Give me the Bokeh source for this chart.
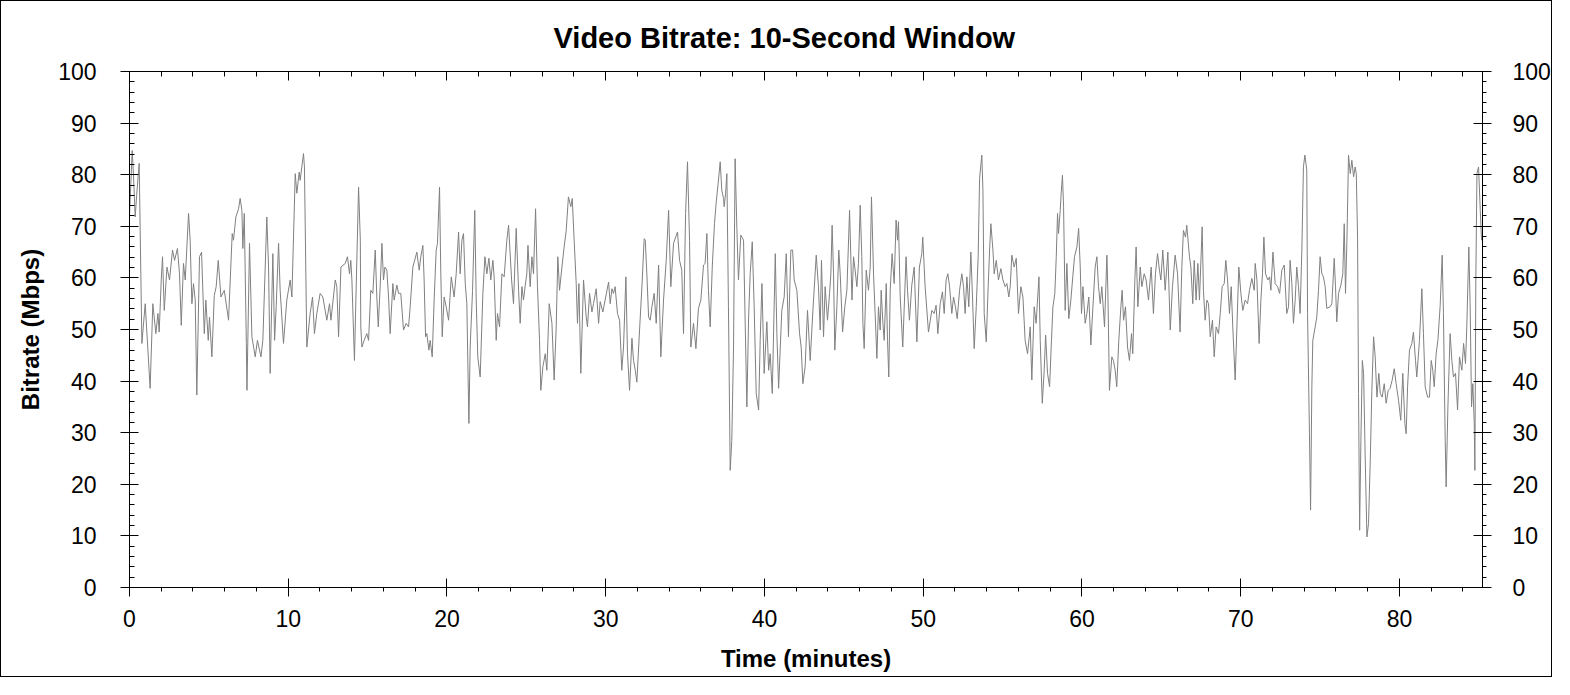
from bokeh.embed import file_html
from bokeh.models import (ColumnDataSource, CustomJSTickFormatter, LinearAxis,
                          Range1d, SingleIntervalTicker)
from bokeh.plotting import figure
from bokeh.resources import INLINE

# bitrate, one segment per ~14 minutes
minutes_a = [0.00, 0.17, 0.25, 0.36, 0.45, 0.61, 0.78, 0.99, 1.16, 1.30, 1.47, 1.66, 1.79, 1.87, 2.00, 2.08, 2.19, 2.36,
             2.52, 2.71, 2.84, 3.02, 3.15, 3.26, 3.40, 3.51, 3.72, 3.82, 3.93, 4.03, 4.14, 4.24, 4.41, 4.54, 4.71, 4.81,
             4.96, 5.04, 5.19, 5.34, 5.46, 5.59, 5.76, 5.97, 6.24, 6.47, 6.55, 6.70, 6.87, 6.97, 7.08, 7.14, 7.23, 7.36,
             7.40, 7.56, 7.71, 7.92, 8.06, 8.28, 8.40, 8.65, 8.76, 8.86, 9.03, 9.14, 9.24, 9.39, 9.49, 9.70, 9.91, 10.12,
             10.23, 10.44, 10.54, 10.69, 10.75, 10.96, 11.02, 11.17, 11.38, 11.53, 11.65, 11.80, 12.01, 12.18, 12.43,
             12.60, 12.69, 12.96, 13.06, 13.17, 13.32, 13.59, 13.73, 13.86, 13.94, 14.01, 14.17, 14.43, 14.54]
mbps_a = [72.0, 84.7, 80.0, 71.8, 76.0, 82.2, 47.3, 55.0, 46.0, 38.6, 55.0, 49.2, 53.1, 49.5, 59.6, 64.1, 53.7, 62.1,
          59.6, 65.4, 63.4, 65.7, 60.8, 50.8, 62.8, 59.6, 72.5, 67.3, 55.0, 58.9, 55.7, 37.3, 64.1, 65.0, 49.2, 55.7,
          47.9, 52.4, 44.7, 56.6, 58.3, 63.4, 56.3, 57.6, 51.8, 68.6, 67.3, 71.8, 73.4, 75.4, 73.1, 65.7, 72.5, 47.3,
          38.2, 66.7, 48.6, 44.7, 47.9, 44.7, 47.9, 71.8, 62.1, 41.5, 64.7, 47.9, 54.4, 66.7, 57.6, 47.3, 55.7, 59.6,
          56.3, 80.2, 76.4, 80.5, 78.9, 84.1, 81.5, 46.6, 53.1, 56.3, 49.2, 53.1, 57.0, 56.3, 51.8,
          55.0, 51.8, 59.6, 58.3, 48.6, 62.1, 62.8, 64.1, 60.8, 63.4, 59.6, 44.0, 77.6, 67.3]

minutes_b = [14.57, 14.64, 14.78, 14.95, 15.06, 15.20, 15.33, 15.48, 15.58, 15.67, 15.79, 15.90, 16.00, 16.09, 16.21,
             16.32, 16.42, 16.59, 16.67, 16.84, 16.95, 17.09, 17.26, 17.43, 17.58, 17.68, 17.85, 18.10, 18.25, 18.35,
             18.48, 18.56, 18.65, 18.73, 18.86, 18.94, 19.07, 19.19, 19.32, 19.40, 19.53, 19.61, 19.70, 19.82, 19.95,
             20.10, 20.27, 20.45, 20.58, 20.73, 20.83, 20.94, 21.04, 21.15, 21.25, 21.38, 21.46, 21.61, 21.75, 21.84,
             21.94, 22.09, 22.26, 22.39, 22.51, 22.64, 22.76, 22.89, 22.97, 23.10, 23.18, 23.31, 23.46, 23.60, 23.77,
             23.88, 24.07, 24.19, 24.36, 24.51, 24.61, 24.72, 24.82, 24.93, 25.03, 25.10, 25.24, 25.35, 25.45, 25.58,
             25.70, 25.83, 25.91, 26.04, 26.19, 26.29, 26.44, 26.61, 26.75, 26.88, 26.98, 27.09, 27.24, 27.38, 27.51,
             27.65, 27.80, 27.89, 28.01, 28.14, 28.22, 28.31, 28.43, 28.60, 28.77, 28.85, 28.98]
mbps_b = [50.5, 46.6, 47.9, 49.2, 47.9, 57.6, 57.0, 65.4, 56.3, 50.5, 58.3, 66.7, 59.6, 62.1, 61.5,
          56.3, 49.2, 58.9, 55.7, 58.6, 57.0, 57.0, 49.9, 51.2, 50.5, 54.4, 62.1, 65.0, 61.5, 64.1,
          66.3, 59.6, 48.6, 49.2, 46.0, 47.9, 44.7, 55.7, 65.4, 66.7, 77.6, 60.8, 48.6, 56.3, 54.4,
          51.8, 60.2, 56.3, 60.8, 68.9, 60.8, 67.3, 68.6, 58.9, 55.0, 31.8, 46.6, 57.6, 73.1, 55.7,
          44.7, 40.8, 57.0, 64.1, 60.8, 63.8, 59.6, 63.4, 60.2, 47.9, 53.1, 50.5, 60.8, 60.2, 67.3,
          70.2, 59.6, 55.0, 69.6, 57.6, 51.2, 58.3, 55.7, 58.6, 60.8, 66.3, 58.3, 64.1, 60.8, 73.4,
          58.3, 47.9, 38.2, 42.8, 45.3, 42.1, 55.0, 51.2, 40.2, 50.5, 64.1, 57.6, 62.1, 66.0, 69.2,
          75.7, 73.8, 75.4, 67.3, 58.9, 51.2, 58.9, 41.5, 59.6, 52.4, 50.5, 57.0]

minutes_c = [29.13, 29.23, 29.40, 29.55, 29.65, 29.82, 29.96, 30.18, 30.28, 30.39, 30.49, 30.59, 30.74, 30.87, 31.01,
             31.12, 31.27, 31.37, 31.50, 31.65, 31.75, 31.86, 31.96, 32.13, 32.28, 32.42, 32.49, 32.59, 32.70, 32.80,
             32.91, 33.05, 33.18, 33.33, 33.47, 33.64, 33.81, 33.96, 34.10, 34.27, 34.52, 34.65, 34.79, 34.90, 35.03,
             35.15, 35.28, 35.36, 35.53, 35.68, 35.84, 35.99, 36.16, 36.26, 36.37, 36.47, 36.58, 36.71, 36.85, 36.96,
             37.08, 37.21, 37.31, 37.42, 37.46, 37.55, 37.63, 37.73, 37.84, 37.94, 38.05, 38.15, 38.26, 38.36, 38.51,
             38.68, 38.79, 38.89, 39.00, 39.10, 39.23, 39.35, 39.48, 39.63, 39.73, 39.84, 39.98, 40.15, 40.26, 40.36,
             40.49, 40.68, 40.78, 40.89, 41.09, 41.24, 41.37, 41.51, 41.66, 41.77, 41.87, 42.04, 42.21, 42.31, 42.42,
             42.56, 42.71, 42.88, 43.05, 43.26, 43.40, 43.51]
mbps_c = [53.4, 55.0, 57.9, 51.2, 55.4, 53.4, 55.7, 59.2, 55.0, 57.9, 57.0, 58.3, 53.1, 51.8, 42.1,
          46.6, 60.2, 45.3, 38.2, 48.3, 44.0, 42.1, 39.8, 49.9, 58.3, 67.6, 67.3, 60.8, 52.4, 51.8,
          54.4, 57.0, 51.2, 62.5, 44.7, 55.7, 63.4, 73.1, 58.3, 66.7, 68.9, 63.4, 61.5, 49.2, 72.5,
          82.5, 67.3, 46.6, 51.2, 46.3, 54.1, 55.7, 62.5, 62.8, 68.6, 57.6, 50.5, 62.1, 70.5, 74.7,
          78.3, 82.5, 77.0, 75.4, 73.8, 76.4, 80.2, 54.4, 22.7, 28.5, 46.6, 83.1, 69.6, 59.6, 68.3,
          67.3, 50.5, 35.0, 52.4, 60.8, 67.0, 54.4, 37.6, 34.4, 47.9, 58.9, 41.5, 51.5, 42.1, 45.3,
          37.6, 64.7, 49.2, 38.6, 53.7, 56.3, 64.7, 48.6, 65.4, 65.4, 59.6, 57.6, 49.2, 46.6, 39.5,
          42.8, 53.7, 44.0, 53.7, 64.4, 58.3, 49.9]

minutes_d = [43.59, 43.72, 43.82, 43.97, 44.10, 44.18, 44.26, 44.35, 44.43, 44.56, 44.68, 44.77, 44.92, 45.06, 45.19,
             45.36, 45.51, 45.61, 45.71, 45.82, 45.92, 46.03, 46.13, 46.20, 46.28, 46.41, 46.55, 46.66, 46.74, 46.87,
             46.97, 47.08, 47.18, 47.29, 47.35, 47.46, 47.54, 47.67, 47.75, 47.83, 47.92, 48.04, 48.17, 48.29, 48.38,
             48.44, 48.55, 48.71, 48.92, 49.01, 49.13, 49.28, 49.43, 49.60, 49.76, 49.91, 49.97, 50.12, 50.33, 50.54,
             50.69, 50.81, 50.92, 51.07, 51.21, 51.32, 51.44, 51.55, 51.66, 51.80, 51.91, 52.03, 52.14, 52.29, 52.43,
             52.54, 52.64, 52.75, 52.87, 53.00, 53.11, 53.21, 53.34, 53.46, 53.55, 53.69, 53.76, 53.84, 53.97, 54.09,
             54.18, 54.26, 54.39, 54.47, 54.60, 54.74, 54.89, 55.02, 55.16, 55.27, 55.39, 55.48, 55.58, 55.73, 55.86,
             56.00, 56.15, 56.28, 56.42, 56.57, 56.74, 56.84, 56.99, 57.11, 57.29, 57.37, 57.50, 57.62, 57.71, 57.83,
             57.96]
mbps_d = [63.4, 48.6, 58.3, 51.8, 57.0, 60.8, 70.2, 60.8, 46.0, 54.4, 65.4, 60.8, 49.5, 54.4, 57.6,
          73.1, 55.7, 64.1, 61.5, 58.3, 62.8, 74.1, 64.1, 51.2, 46.3, 61.5, 57.6, 62.1, 75.7, 60.8,
          53.1, 44.4, 54.4, 49.9, 57.6, 51.2, 47.9, 58.9, 47.9, 40.8, 57.6, 64.7, 58.9, 71.2, 67.3,
          70.9, 56.3, 46.6, 64.1, 57.6, 51.8, 58.6, 62.1, 47.6, 62.1, 64.7, 67.9, 58.3, 49.5, 53.7,
          53.1, 54.7, 49.2, 55.0, 57.3, 53.1, 59.6, 60.8, 58.3, 53.1, 56.3, 54.4, 52.1, 57.6, 60.8,
          58.3, 53.1, 60.2, 54.4, 65.0, 55.7, 46.3, 54.4, 64.1, 79.3, 83.8, 77.0, 53.1, 47.6, 58.3,
          65.4, 70.5, 65.4, 60.8, 63.4, 59.6, 61.8, 59.6, 58.3, 58.9, 56.3, 58.3, 64.4, 62.1, 63.8,
          53.1, 58.3, 56.3, 47.9, 45.3, 50.5, 40.2, 54.4, 51.2, 60.2, 47.9, 35.7, 42.1, 48.9, 41.5,
          38.9]

minutes_e = [58.06, 58.17, 58.29, 58.38, 58.46, 58.52, 58.63, 58.69, 58.77, 58.84, 58.94, 59.05, 59.17, 59.30, 59.42,
             59.53, 59.68, 59.79, 59.89, 59.97, 60.06, 60.20, 60.31, 60.43, 60.56, 60.69, 60.83, 60.94, 61.04, 61.15,
             61.25, 61.42, 61.57, 61.63, 61.73, 61.88, 61.98, 62.09, 62.19, 62.32, 62.45, 62.53, 62.62, 62.74, 62.87,
             62.99, 63.12, 63.20, 63.33, 63.41, 63.52, 63.67, 63.77, 63.92, 64.04, 64.19, 64.36, 64.50, 64.63, 64.76,
             64.88, 64.97, 65.09, 65.24, 65.41, 65.56, 65.70, 65.87, 66.02, 66.18, 66.29, 66.39, 66.52, 66.60, 66.77,
             66.86, 66.98, 67.07, 67.19, 67.30, 67.40, 67.57, 67.65, 67.76, 67.87, 67.97, 68.08, 68.22, 68.33, 68.45,
             68.60, 68.71, 68.83, 68.96, 69.06, 69.17, 69.29, 69.40, 69.50, 69.65, 69.76, 69.88, 70.01, 70.13, 70.28,
             70.43, 70.55, 70.70, 70.85, 70.91, 71.02, 71.16, 71.27, 71.37, 71.46, 71.56, 71.71, 71.82, 71.90, 72.03,
             72.17, 72.32, 72.45]
mbps_e = [46.6, 54.4, 57.0, 64.1, 72.5, 68.6, 73.1, 76.4, 79.9, 73.8, 53.7, 62.8, 52.1, 55.7, 60.2,
          64.1, 66.0, 69.6, 62.1, 53.1, 58.3, 51.2, 53.1, 56.3, 47.0, 54.4, 62.1, 64.1, 58.3, 55.0,
          58.3, 50.5, 64.4, 57.6, 38.2, 44.7, 44.0, 42.1, 38.9, 47.9, 54.4, 57.6, 51.8, 54.4, 46.6,
          44.0, 49.2, 45.3, 59.6, 66.0, 54.4, 62.1, 58.3, 60.8, 59.6, 55.7, 62.1, 53.1, 60.8, 64.7,
          61.5, 59.6, 65.4, 57.6, 65.0, 49.9, 58.3, 64.4, 60.8, 49.5, 62.1, 69.2, 67.9, 70.2, 64.1,
          62.1, 55.0, 63.4, 55.7, 62.8, 55.7, 69.9, 57.6, 51.8, 55.7, 55.0, 48.6, 51.8, 44.7, 50.5,
          49.2, 53.1, 58.3, 58.9, 63.4, 59.6, 53.1, 58.3, 50.5, 40.2, 50.5, 62.1, 57.0, 53.7, 55.7,
          55.0, 57.6, 59.9, 57.6, 62.8, 59.6, 47.3, 55.7, 60.8, 67.9, 60.8, 59.6, 60.2, 57.6, 65.0,
          58.9, 58.3, 57.0]

minutes_f = [72.59, 72.74, 72.90, 73.01, 73.11, 73.22, 73.32, 73.43, 73.53, 73.64, 73.74, 73.85, 73.95, 74.04, 74.16,
             74.21, 74.33, 74.40, 74.48, 74.54, 74.69, 74.79, 74.90, 75.00, 75.11, 75.21, 75.32, 75.42, 75.63, 75.74,
             75.89, 75.97, 76.05, 76.16, 76.31, 76.43, 76.52, 76.60, 76.69, 76.79, 76.90, 77.00, 77.11, 77.21, 77.28,
             77.36, 77.42, 77.49, 77.57, 77.66, 77.74, 77.84, 77.95, 78.05, 78.16, 78.26, 78.37, 78.47, 78.58, 78.70,
             78.79, 78.91, 79.04, 79.16, 79.29, 79.41, 79.54, 79.67, 79.79, 79.94, 80.08, 80.21, 80.34, 80.42, 80.51,
             80.63, 80.78, 80.88, 81.01, 81.09, 81.26, 81.41, 81.51, 81.62, 81.77, 81.89, 82.00, 82.10, 82.19, 82.31,
             82.42, 82.56, 82.69, 82.77, 82.88, 82.94, 83.05, 83.19, 83.30, 83.40, 83.53, 83.66, 83.78, 83.93, 84.04,
             84.16, 84.24, 84.37, 84.45, 84.54, 84.62, 84.71, 84.75, 84.81, 84.88, 84.98, 85.09, 85.17]
mbps_f = [61.5, 62.5, 53.1, 54.4, 63.4, 58.9, 51.2, 55.7, 62.1, 58.3, 53.1, 65.4, 81.5, 83.8, 80.9,
          53.1, 29.8, 15.0, 38.9, 47.9, 50.5, 52.4, 57.6, 64.1, 60.8, 60.2, 58.3, 54.1, 54.4, 55.0,
          63.8, 58.3, 51.5, 57.0, 58.6, 60.8, 70.5, 57.0, 67.3, 83.8, 80.2, 82.8, 79.6, 81.5, 80.2,
          67.9, 37.6, 11.1, 28.5, 44.0, 41.5, 25.3, 9.8, 12.4, 24.7, 38.2, 48.6, 44.7, 36.9, 41.5,
          37.6, 36.9, 39.5, 35.7, 38.2, 38.6, 40.2, 42.4, 39.5, 36.3, 32.4, 41.5, 31.8, 29.8, 38.9,
          46.0, 47.3, 49.5, 44.0, 40.8, 47.9, 57.9, 49.2, 38.9, 36.9, 36.9, 44.0, 42.1, 38.9, 45.3,
          47.9, 54.4, 64.4, 53.1, 28.5, 19.5, 35.0, 49.2, 44.0, 40.8, 41.5, 34.4, 44.7, 42.1, 47.3,
          43.4, 50.5, 66.0, 55.0, 35.0, 39.5, 31.8, 22.7, 59.6, 80.2, 81.5, 73.1, 67.3]

minutes = minutes_a + minutes_b + minutes_c + minutes_d + minutes_e + minutes_f
mbps = mbps_a + mbps_b + mbps_c + mbps_d + mbps_e + mbps_f
for m, v in ((minutes_a, mbps_a), (minutes_b, mbps_b), (minutes_c, mbps_c),
             (minutes_d, mbps_d), (minutes_e, mbps_e), (minutes_f, mbps_f)):
    assert len(m) == len(v), (m[0], len(m), len(v))

FONT = "Liberation Sans"

p = figure(
    width=1552,
    height=677,
    x_range=Range1d(start=0, end=85.23),
    y_range=Range1d(start=0, end=100),
    output_backend="svg",
    toolbar_location=None,
    title="Video Bitrate: 10-Second Window",
    min_border_left=128,
    min_border_right=71,
    min_border_top=70,
    min_border_bottom=91,
    background_fill_color="white",
    border_fill_color="white",
    outline_line_color=None,
)
p.styles = {"border": "1px solid black"}
p.grid.visible = False

p.title.align = "left"
p.title.offset = 424
p.title.standoff = 35
p.title.text_font = FONT
p.title.text_font_size = "29px"
p.title.text_font_style = "bold"
p.title.text_color = "black"


def style_axis(ax, tick_in, tick_out, minor_in, minor_out):
    ax.ticker = SingleIntervalTicker(interval=10, num_minor_ticks=5)
    ax.axis_line_color = "black"
    ax.major_tick_line_color = "black"
    ax.minor_tick_line_color = "black"
    ax.major_tick_in = tick_in
    ax.major_tick_out = tick_out
    ax.minor_tick_in = minor_in
    ax.minor_tick_out = minor_out
    ax.major_label_text_font = FONT
    ax.major_label_text_font_size = "23px"
    ax.major_label_text_color = "black"
    ax.axis_label_text_font = FONT
    ax.axis_label_text_font_size = "24px"
    ax.axis_label_text_font_style = "bold"
    ax.axis_label_text_color = "black"


xb = p.xaxis[0]
style_axis(xb, 9, 9, 0, 4)
xb.major_label_standoff = 13
xb.axis_label = "Time (minutes)"
xb.axis_label_standoff = 15

# top edge: ticks only
xt = LinearAxis()
style_axis(xt, 9, 0, 5, 0)
xt.formatter = CustomJSTickFormatter(code="return ''")
xt.major_label_standoff = 0
p.add_layout(xt, "above")

yl = p.yaxis[0]
style_axis(yl, 9, 9, 5, 0)
yl.major_label_standoff = 24
yl.axis_label = "Bitrate (Mbps)"
yl.axis_label_standoff = 11

yr = LinearAxis()
style_axis(yr, 9, 9, 0, 4)
yr.major_label_standoff = 21
p.add_layout(yr, "right")

src = ColumnDataSource({"minute": minutes, "mbps": mbps})
p.line("minute", "mbps", source=src, line_color="#808080", line_width=1)

open("out.html", "w").write(file_html(p, INLINE))
